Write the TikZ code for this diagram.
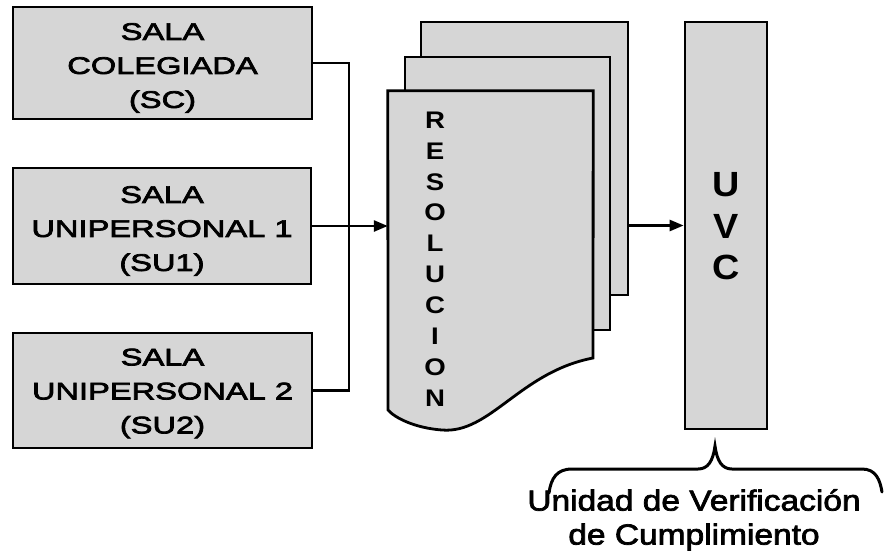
\documentclass[tikz,border=0pt]{standalone}
\usepackage{fontspec}
\setmainfont{Liberation Sans}
\newfontfamily\widefont[FakeStretch=1.36,FakeBold=3]{Liberation Sans}
\newfontfamily\midfont[FakeStretch=1.15]{Liberation Sans}
\newfontfamily\capfont[FakeStretch=1.08]{Liberation Sans}
\newfontfamily\labfont[FakeStretch=1.155,FakeBold=2.5]{Liberation Sans}
\usetikzlibrary{arrows.meta}
\definecolor{boxgray}{HTML}{D6D6D6}
\tikzset{
  salabox/.style={draw=black, line width=2.8pt, fill=boxgray, inner sep=0pt},
  salatext/.style={align=center, font=\widefont\fontsize{24}{34}\selectfont, inner sep=0pt},
  docsheet/.style={draw=black, line width=2.8pt, fill=boxgray, inner sep=0pt},
  wire/.style={draw=black, line width=2.6pt},
  arrowwire/.style={wire, -{Triangle[length=14pt,width=11pt]}},
  bracestyle/.style={draw=black, line width=3pt, line cap=round},
}
\begin{document}
\begin{tikzpicture}[x=1pt,y=-1pt]
\useasboundingbox (0,0) rectangle (885,558);
% sala boxes
\node[salabox, minimum width=299pt, minimum height=112pt] (sc) at (162.5,63) {};
\node[salabox, minimum width=298pt, minimum height=116pt] (su1) at (162,226) {};
\node[salabox, minimum width=299pt, minimum height=115pt] (su2) at (162.5,390.5) {};
\node[salatext] (sct) at ([yshift=-5pt]sc.center) {SALA\\COLEGIADA\\(SC)};
\node[salatext] (su1t) at ([yshift=-5pt]su1.center) {SALA\\UNIPERSONAL 1\\(SU1)};
\node[salatext] (su2t) at ([yshift=-3pt]su2.center) {SALA\\UNIPERSONAL 2\\(SU2)};
% document stack
\node[docsheet, minimum width=207pt, minimum height=273pt] (doc3) at (524.5,158.5) {};
\node[docsheet, minimum width=205pt, minimum height=273pt] (doc2) at (507.5,193.5) {};
\node[inner sep=0pt, minimum width=205pt, minimum height=339pt] (doc1) at (490.5,260.5) {};
\draw[docsheet] (doc1.north west) -- (doc1.north east) -- (593,358)
  .. controls (520,372) and (490,434) .. (442,430)
  .. controls (415,428) and (395,418) .. (388,410) -- cycle;
\node[align=center, font=\midfont\bfseries\fontsize{24}{30.9}\selectfont, inner sep=0pt] (res) at (435,259)
  {R\\E\\S\\O\\L\\U\\C\\I\\O\\N};
% UVC
\node[docsheet, minimum width=82pt, minimum height=407pt] (uvc) at (726,225.5) {};
\node[align=center, font=\capfont\bfseries\fontsize{35}{41.5}\selectfont, inner sep=0pt] (uvct) at (726,226.5) {U\\V\\C};
% connectors
\coordinate (bus) at (349,226);
\draw[wire] (sc.east) -| (bus) |- (su2.east);
\draw[arrowwire] (su1.east) -- (doc1.west |- su1.east);
\draw[arrowwire] (doc3.east |- uvc.west) -- (uvc.west);
% brace
\coordinate (btip) at (715,446);
\draw[bracestyle] (549,493) .. controls (551,478) and (557,469) .. (572,469) -- (698,469)
  .. controls (708,469) and (713,461) .. (btip)
  .. controls (717,461) and (722,469) .. (732,469) -- (862,469)
  .. controls (876,469) and (880,480) .. (882,492);
\node[align=center, font=\labfont\fontsize{29}{34}\selectfont, inner sep=0pt, anchor=north] (lab) at (694,489)
  {Unidad de Verificación\\de Cumplimiento};
\end{tikzpicture}
\end{document}
